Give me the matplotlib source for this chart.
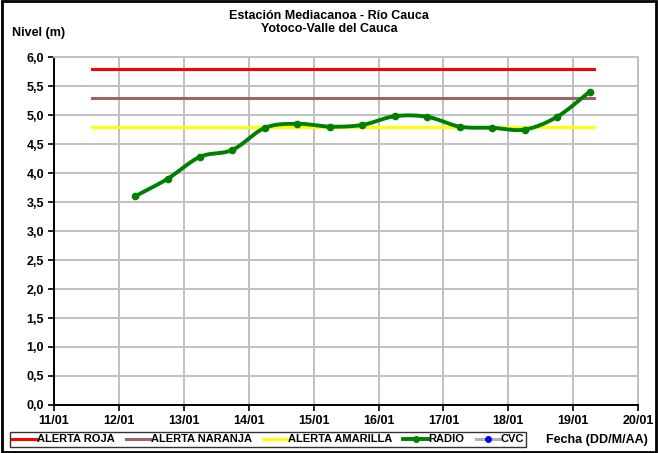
import numpy as np
import matplotlib.pyplot as plt
from matplotlib.lines import Line2D

plt.rcParams['font.family'] = ['Liberation Sans', 'DejaVu Sans']
plt.rcParams['font.weight'] = 'bold'

# datos (dias de enero, cada 12 horas)
dias = [12.25, 12.75, 13.25, 13.75, 14.25, 14.75, 15.25, 15.75,
        16.25, 16.75, 17.25, 17.75, 18.25, 18.75, 19.25]
nivel = [3.6, 3.9, 4.28, 4.4, 4.78, 4.85, 4.8, 4.83,
         4.98, 4.97, 4.8, 4.78, 4.75, 4.97, 5.4]

alerta_x = [11.58, 19.32]
alerta_roja = 5.8
alerta_naranja = 5.3
alerta_amarilla = 4.8

xticks = [11, 12, 13, 14, 15, 16, 17, 18, 19, 20]
xlabels = ['11/01', '12/01', '13/01', '14/01', '15/01', '16/01', '17/01', '18/01', '19/01', '20/01']
yticks = np.arange(0, 6.01, 0.5)


def suavizar(x, y, n=20):
    # curva suavizada tipo Catmull-Rom (como la linea suavizada de Excel)
    x = np.asarray(x); y = np.asarray(y)
    px = np.concatenate([[2 * x[0] - x[1]], x, [2 * x[-1] - x[-2]]])
    py = np.concatenate([[2 * y[0] - y[1]], y, [2 * y[-1] - y[-2]]])
    xs, ys = [], []
    for i in range(1, len(px) - 2):
        t = np.linspace(0, 1, n, endpoint=False)
        for p, out in ((px, xs), (py, ys)):
            p0, p1, p2, p3 = p[i - 1], p[i], p[i + 1], p[i + 2]
            out.extend(0.5 * ((2 * p1) + (-p0 + p2) * t
                              + (2 * p0 - 5 * p1 + 4 * p2 - p3) * t ** 2
                              + (-p0 + 3 * p1 - 3 * p2 + p3) * t ** 3))
    xs.append(x[-1]); ys.append(y[-1])
    return xs, ys


fig = plt.figure(figsize=(6.58, 4.53), dpi=100)
ax = fig.add_axes([0.082, 0.106, 0.888, 0.768])

ax.plot(alerta_x, [alerta_roja] * 2, color='#ff0000', lw=2.2)
ax.plot(alerta_x, [alerta_naranja] * 2, color='#996666', lw=2.2)
ax.plot(alerta_x, [alerta_amarilla] * 2, color='#ffff00', lw=2.2)

sx, sy = suavizar(dias, nivel)
ax.plot(sx, sy, color='#008000', lw=2.8, solid_capstyle='round')
ax.plot(dias, nivel, 'o', color='#008000', ms=4.5)

ax.set_xlim(11, 20)
ax.set_ylim(0, 6)
ax.set_xticks(xticks)
ax.set_xticklabels(xlabels, fontsize=9, weight='bold')
ax.set_yticks(yticks)
ax.set_yticklabels([f'{v:.1f}'.replace('.', ',') for v in yticks], fontsize=9, weight='bold')
ax.tick_params(length=4, width=1.2, direction='out', pad=3)
ax.grid(True, color='#c0c0c0', lw=1.4)
ax.set_axisbelow(True)
for s in ['top', 'right']:
    ax.spines[s].set_color('#c0c0c0')
    ax.spines[s].set_linewidth(1.4)
for s in ['left', 'bottom']:
    ax.spines[s].set_linewidth(1.4)

fig.text(0.5, 0.965, 'Estación Mediacanoa - Río Cauca', ha='center', va='center', fontsize=9, weight='bold')
fig.text(0.5, 0.935, 'Yotoco-Valle del Cauca', ha='center', va='center', fontsize=9, weight='bold')
fig.text(0.058, 0.928, 'Nivel (m)', ha='center', va='center', fontsize=9, weight='bold')
fig.text(0.907, 0.028, 'Fecha (DD/M/AA)', ha='center', va='center', fontsize=9, weight='bold')

handles = [
    Line2D([], [], color='#ff0000', lw=2.2),
    Line2D([], [], color='#996666', lw=2.2),
    Line2D([], [], color='#ffff00', lw=2.2),
    Line2D([], [], color='#008000', lw=2.8, marker='o', ms=4),
    Line2D([], [], color='#b0b0b0', lw=2.2, marker='o', ms=4, mfc='#0000ff', mec='#0000ff'),
]
labels = ['ALERTA ROJA', 'ALERTA NARANJA', 'ALERTA AMARILLA', 'RADIO', 'CVC']
leg = fig.legend(handles, labels, loc='center left', bbox_to_anchor=(0.015, 0.03), ncol=5,
                 prop={'size': 8, 'weight': 'bold'}, frameon=True, fancybox=False,
                 edgecolor='black', handlelength=2.2, handletextpad=0.05, columnspacing=1.0,
                 borderpad=0.2, borderaxespad=0)
leg.get_frame().set_linewidth(1)

fig.patches.append(plt.Rectangle((0.003, 0.003), 0.994, 0.994, transform=fig.transFigure,
                                 fill=False, edgecolor='black', lw=2))

fig.savefig('out.png', dpi=100)
